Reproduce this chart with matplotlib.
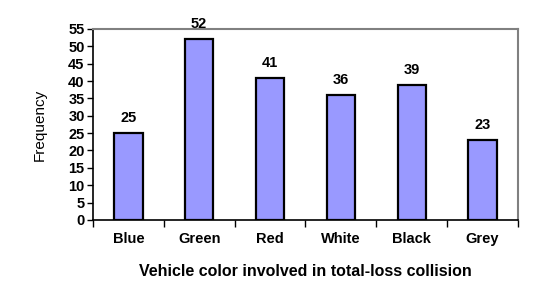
import numpy as np
import matplotlib.pyplot as plt

colors = ["Blue", "Green", "Red", "White", "Black", "Grey"]
freq = [25, 52, 41, 36, 39, 23]
yticks = list(range(0, 60, 5))

plt.rcParams['font.family'] = ['Liberation Sans', 'DejaVu Sans']

fig = plt.figure(figsize=(5.34, 3.05), dpi=100)
ax = fig.add_axes([0.174, 0.279, 0.796, 0.626])

x = np.arange(len(colors))
bars = ax.bar(x, freq, width=0.4, color='#9999FF', edgecolor='black', linewidth=1.6, zorder=3)
for xi, v in zip(x, freq):
    ax.text(xi, v + 2.3, str(v), ha='center', va='bottom', fontsize=10.5, fontweight='bold')

ax.set_xlim(-0.5, len(colors) - 0.5)
ax.set_ylim(0, 55)
ax.set_yticks(yticks)
ax.set_yticklabels([str(t) for t in yticks], fontsize=10.5, fontweight='bold')
ax.set_xticks(x)
ax.set_xticklabels(colors, fontsize=10.5, fontweight='bold')
ax.tick_params(axis='x', length=0, pad=9)
ax.set_xticks(np.arange(-0.5, len(colors)), minor=True)
ax.tick_params(axis='x', which='minor', length=5, color='black', width=1, direction='out')
ax.tick_params(axis='y', length=4, color='black', width=1, direction='out', pad=2)

for s in ['top', 'right']:
    ax.spines[s].set_color('#808080')
    ax.spines[s].set_linewidth(1.5)
for s in ['left', 'bottom']:
    ax.spines[s].set_color('black')
    ax.spines[s].set_linewidth(1.2)

ax.set_ylabel("Frequency", fontsize=11, labelpad=15)
ax.set_xlabel("Vehicle color involved in total-loss collision", fontsize=11.5, fontweight='bold', labelpad=13)

fig.savefig("out.png", dpi=100)
